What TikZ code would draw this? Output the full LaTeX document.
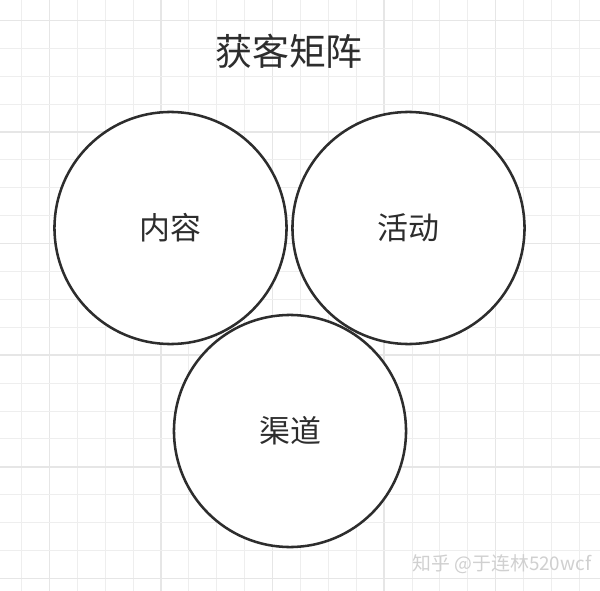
\documentclass[tikz,border=0pt]{standalone}
\usepackage{fontspec}
\setmainfont{Noto Sans CJK SC}
\usetikzlibrary{positioning}
\definecolor{ink_gray}{RGB}{45, 45, 45}
\definecolor{grid_minor}{RGB}{238, 238, 238}
\definecolor{grid_major}{RGB}{230, 230, 230}
\definecolor{mark_gray}{RGB}{208, 208, 208}

\begin{document}
\begin{tikzpicture}[
    x=0.025cm, y=-0.025cm,
    % Define the channel circle style
    channel/.style={
        circle,
        minimum size=5.8cm,
        line width=1.8pt,
        draw=ink_gray,
        fill=white,
        text=ink_gray,
        font=\fontsize{22}{26}\selectfont
    },
    % Grid line styles
    gridminor/.style={grid_minor, line width=0.7pt},
    gridmajor/.style={grid_major, line width=1pt}
]

\useasboundingbox (0,0) rectangle (600,591);
\fill[white] (0,0) rectangle (600,591);

% Background grid
\foreach \k in {-1,...,19} {
    \pgfmathtruncatemacro{\m}{mod(\k+4,4)}
    \ifnum\m=0
        \draw[gridmajor] (49.3+27.9*\k,0) -- (49.3+27.9*\k,591);
    \else
        \draw[gridminor] (49.3+27.9*\k,0) -- (49.3+27.9*\k,591);
    \fi
}
\foreach \k in {0,...,20} {
    \pgfmathtruncatemacro{\m}{mod(\k,4)}
    \ifnum\m=0
        \draw[gridmajor] (0,20.4+27.9*\k) -- (600,20.4+27.9*\k);
    \else
        \draw[gridminor] (0,20.4+27.9*\k) -- (600,20.4+27.9*\k);
    \fi
}

% Title
\node[text=ink_gray, font=\fontsize{26.3}{30}\selectfont] (title) at (289,51) {获客矩阵};

% Position the three circles
\node[channel] (content) at (170.5,228) {内容};
\node[channel] (activity) at (408.5,228) {活动};
\node[channel] (channel) at (290,431) {渠道};

% Watermark
\node[text=mark_gray, font=\fontsize{13.4}{16}\selectfont] (mark) at (502,564) {知乎 @于连林520wcf};

\end{tikzpicture}
\end{document}
